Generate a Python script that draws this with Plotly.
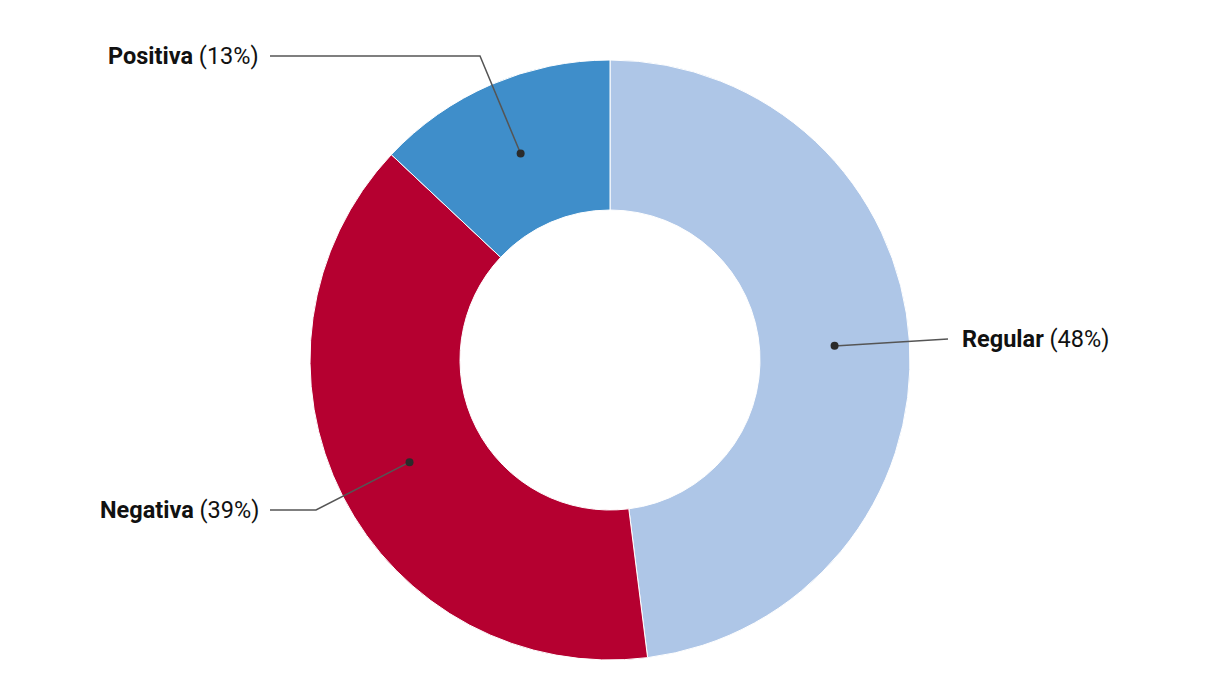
import math
import plotly.graph_objects as go

categories = ["Regular", "Negativa", "Positiva"]
values = [48, 39, 13]
colors = ["#aec6e7", "#b50030", "#3f8eca"]

W, H = 1220, 700
OFF = 8  # page body margin
CX, CY, R = 610 - OFF, 360 - OFF, 300
HOLE = 0.5

# label placement (screen px, corrected by OFF)
label_layout = {
    "Regular": {"elbow": None, "end": (948, 339), "text": (960, 339), "anchor": "left"},
    "Negativa": {"elbow": (316, 510), "end": (270, 510), "text": (261, 510), "anchor": "right"},
    "Positiva": {"elbow": (480, 56), "end": (270, 56), "text": (261, 56), "anchor": "right"},
}

fig = go.Figure()
fig.add_trace(go.Pie(
    labels=categories, values=values, hole=HOLE, sort=False,
    direction="clockwise", rotation=0,
    marker=dict(colors=colors, line=dict(color="white", width=1)),
    textinfo="none", hoverinfo="label+percent", showlegend=False,
    domain=dict(x=[(CX - R) / W, (CX + R) / W], y=[1 - (CY + R) / H, 1 - (CY - R) / H]),
))

total = sum(values)
cum = 0
annotations = []
shapes = []
for cat, v in zip(categories, values):
    mid = (cum + v / 2) / total * 2 * math.pi
    cum += v
    rr = R * (1 + HOLE) / 2
    dx = CX + rr * math.sin(mid)
    dy = CY - rr * math.cos(mid)
    lay = label_layout[cat]
    pts = [(dx, dy)]
    if lay["elbow"]:
        pts.append((lay["elbow"][0] - OFF, lay["elbow"][1] - OFF))
    pts.append((lay["end"][0] - OFF, lay["end"][1] - OFF))
    path = "M " + " L ".join(f"{x:.1f},{y:.1f}" for x, y in pts)
    shapes.append(dict(type="path", path=path, xref="x", yref="y", layer="above",
                       line=dict(color="#555555", width=1.5)))
    shapes.append(dict(type="circle", xref="x", yref="y", layer="above",
                       x0=dx - 4, x1=dx + 4, y0=dy - 4, y1=dy + 4,
                       fillcolor="#2b2b2b", line=dict(width=0)))
    pct = round(v / total * 100)
    annotations.append(dict(
        x=lay["text"][0] - OFF, y=lay["text"][1] - OFF, xref="x", yref="y",
        text=f"<b>{cat}</b> ({pct}%)", showarrow=False,
        xanchor=lay["anchor"], yanchor="middle",
        font=dict(size=23.5, color="#111111", family="Roboto, sans-serif"),
    ))

fig.update_layout(
    width=W, height=H, margin=dict(l=0, r=0, t=0, b=0),
    paper_bgcolor="white", plot_bgcolor="rgba(0,0,0,0)",
    xaxis=dict(range=[0, W], visible=False, fixedrange=True, domain=[0, 1]),
    yaxis=dict(range=[H, 0], visible=False, fixedrange=True, domain=[0, 1]),
    annotations=annotations, shapes=shapes,
)
fig.write_html("out.html")
